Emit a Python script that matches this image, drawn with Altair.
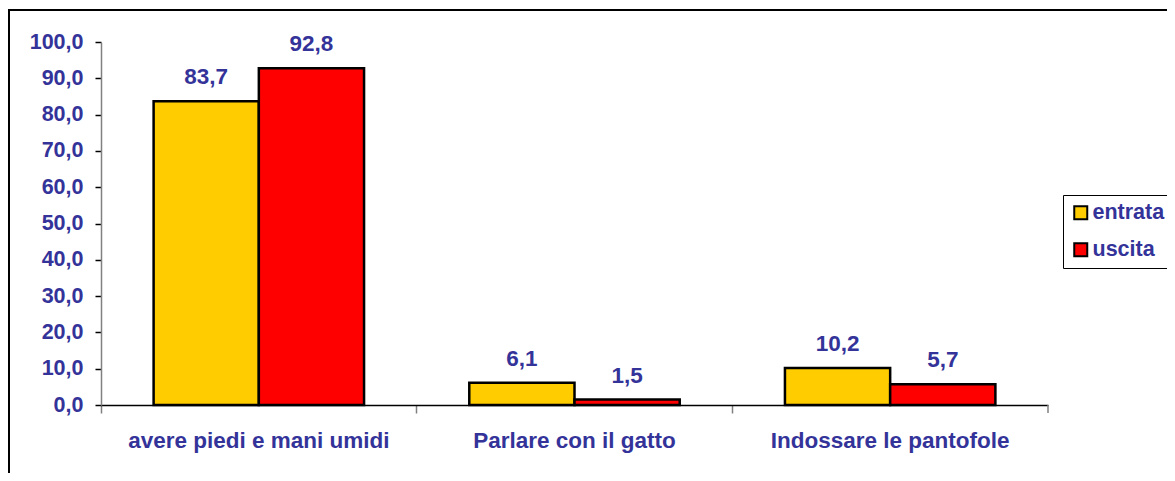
import altair as alt
import pandas as pd

categories = ["avere piedi e mani umidi", "Parlare con il gatto", "Indossare le pantofole"]
series = ["entrata", "uscita"]
entrata = [83.7, 6.1, 10.2]
uscita = [92.8, 1.5, 5.7]
colors = ["#FFCC00", "#FF0000"]

rows = []
for i, c in enumerate(categories):
    for s, vals in zip(series, [entrata, uscita]):
        rows.append({"cat": c, "serie": s, "val": vals[i],
                     "lab": f"{vals[i]:.1f}".replace(".", ",")})
df = pd.DataFrame(rows)

BLUE = "#333399"
FONT = "Liberation Sans"

x = alt.X("cat:N", sort=categories, title=None,
          scale=alt.Scale(paddingInner=0, paddingOuter=0),
          axis=alt.Axis(labelAngle=0, labelFont=FONT, labelFontSize=22.5, labelFontWeight="bold",
                        labelColor=BLUE, domainColor="#000000", domainWidth=1.5,
                        tickColor="#808080", tickSize=8, tickWidth=1.5, bandPosition=0,
                        labelPadding=16, labelLimit=500, grid=False))
xo = alt.XOffset("serie:N", sort=series, scale=alt.Scale(paddingOuter=0.5, paddingInner=0))
y = alt.Y("val:Q", title=None,
          scale=alt.Scale(domain=[0, 100], nice=False),
          axis=alt.Axis(values=list(range(0, 101, 10)), grid=False, labelOverlap=False,
                        labelExpr="replace(format(datum.value, '.1f'), '.', ',')",
                        labelFont=FONT, labelFontSize=21.5, labelFontWeight="bold",
                        labelColor=BLUE, domainColor="#808080", domainWidth=1.5,
                        tickColor="#000000", tickSize=6, tickWidth=1.5, labelPadding=12))

base = alt.Chart(df)

bars = base.mark_bar(stroke="#000000", strokeWidth=2.5).encode(
    x=x, xOffset=xo, y=y,
    color=alt.Color("serie:N", sort=series, title=None,
                    scale=alt.Scale(domain=series, range=colors),
                    legend=alt.Legend(orient="none", legendX=962, legendY=153,
                                      symbolType="square", symbolSize=169,
                                      symbolStrokeColor="#000000", symbolStrokeWidth=2,
                                      labelFont=FONT, labelFontSize=21.5, labelFontWeight="bold",
                                      labelColor=BLUE, rowPadding=14, labelOffset=1,
                                      strokeColor="#000000", fillColor="#FFFFFF",
                                      padding=7)),
)

texts = base.mark_text(font=FONT, fontSize=22.5, fontWeight="bold", color=BLUE,
                       baseline="alphabetic", dy=-17).encode(
    x=x, xOffset=xo, y=y, text="lab:N")

one = pd.DataFrame({"a": [0]})
endtick = alt.Chart(one).mark_rule(color="#808080", strokeWidth=1.5).encode(
    x=alt.value(947), y=alt.value(363), y2=alt.value(371))

# white cover over the stray light border at the top and right edge of the plot area
cover_top = alt.Chart(one).mark_rule(color="#FFFFFF", strokeWidth=2).encode(
    x=alt.value(1.5), x2=alt.value(949), y=alt.value(0))
cover_right = alt.Chart(one).mark_rule(color="#FFFFFF", strokeWidth=2).encode(
    x=alt.value(947.5), y=alt.value(-1), y2=alt.value(362))

frame_top = alt.Chart(one).mark_rule(color="#000000", strokeWidth=2).encode(
    x=alt.value(-93), x2=alt.value(1200), y=alt.value(-32))
frame_left = alt.Chart(one).mark_rule(color="#000000", strokeWidth=2).encode(
    x=alt.value(-92), y=alt.value(-33), y2=alt.value(600))

chart = alt.layer(cover_top, cover_right, frame_top, frame_left, bars, texts, endtick).properties(
    width=947, height=363,
    background="#FFFFFF",
    autosize=alt.AutoSizeParams(type="none"),
    padding={"left": 93, "top": 34, "right": 119, "bottom": 68},
).configure_view(stroke=None).configure_axis(grid=False)

chart.save("out.html", embed_options={"renderer": "svg", "actions": False})
